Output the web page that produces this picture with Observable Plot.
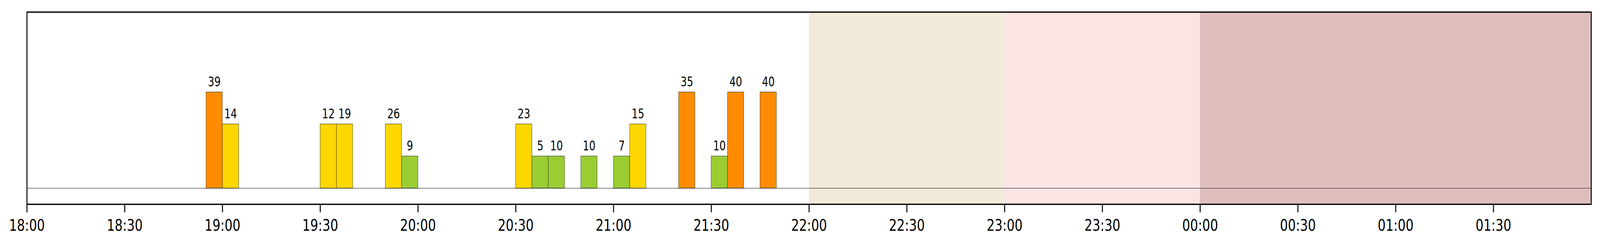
<!DOCTYPE html>
<html>
<head>
<meta charset="utf-8">
<script src="https://cdn.jsdelivr.net/npm/d3@7"></script>
<script src="https://cdn.jsdelivr.net/npm/@observablehq/plot@0.6"></script>
<style>
  html, body { margin: 0; padding: 0; background: white; overflow: hidden; }
  #chart { width: 5370px; height: 630px; transform-origin: 0 0; }
  #chart svg { display: block; max-width: none !important; width: 5370px; height: 630px; }
</style>
</head>
<body>
<div id="chart"></div>
<script>
// ---- data ----
const barStarts = ["18:55","19:00","19:30","19:35","19:50","19:55","20:30","20:35","20:40","20:50","21:00","21:05","21:20","21:30","21:35","21:45"];
const barValues = [39, 14, 12, 19, 26, 9, 23, 5, 10, 10, 7, 15, 35, 10, 40, 40];
const barLevels = [3, 2, 2, 2, 2, 1, 2, 1, 1, 1, 1, 2, 3, 1, 3, 3];
const levelColors = {1: "#9ACD32", 2: "#FFD700", 3: "#FF8C00"};
const barMinutes = 5;

const bandStarts = ["22:00", "23:00", "00:00"];
const bandEnds   = ["23:00", "00:00", "02:00"];
const bandColors = ["#F2EAD9", "#FAE5E4", "#E0BEBE"];

const tickLabels = ["18:00","18:30","19:00","19:30","20:00","20:30","21:00","21:30","22:00","22:30","23:00","23:30","00:00","00:30","01:00","01:30"];
const domainStart = "18:00", domainEnd = "02:00";

// ---- helpers ----
function toDate(hm) {
  const [h, m] = hm.split(":").map(Number);
  const day = h < 12 ? 2 : 1;
  return new Date(Date.UTC(2024, 0, day, h, m));
}
const bars = barStarts.map((s, i) => {
  const start = toDate(s);
  const end = new Date(+start + barMinutes * 60000);
  return {start, end, mid: new Date((+start + +end) / 2), value: barValues[i], level: barLevels[i], color: levelColors[barLevels[i]]};
});
const bands = bandStarts.map((s, i) => ({x1: toDate(s), x2: toDate(bandEnds[i]), color: bandColors[i]}));
const ticks = tickLabels.map(t => toDate(t));

const chart = Plot.plot({
  width: 5370,
  height: 630,
  marginLeft: 90,
  marginRight: 30,
  marginTop: 30.5,
  marginBottom: 107.3,
  style: {fontFamily: "DejaVu Sans", background: "white", color: "black", overflow: "visible"},
  x: {type: "utc", domain: [toDate(domainStart), toDate(domainEnd)], axis: null},
  y: {domain: [-0.5, 5.5], axis: null},
  marks: [
    Plot.rect(bands, {x1: "x1", x2: "x2", fill: "color"}),
    Plot.ruleY([0], {stroke: "#333", strokeWidth: 1.2}),
    Plot.rect(bars, {x1: "start", x2: "end", y1: 0, y2: "level", fill: "color", stroke: "#222", strokeWidth: 1}),
    Plot.text(bars, {x: "mid", y: "level", text: d => String(d.value), lineAnchor: "bottom", dy: -15, fontSize: 33.3, fill: "black"}),
    Plot.frame({stroke: "black", strokeWidth: 3.3}),
    Plot.axisX({ticks: ticks, tickFormat: d3.utcFormat("%H:%M"), tickSize: 21, tickPadding: 17.4, fontSize: 41.7, strokeWidth: 3.3, fill: "black", stroke: "black"})
  ]
});
const holder = document.getElementById("chart");
holder.appendChild(chart);
// The browser viewport may be narrower than the intended 5370px: squeeze horizontally to fit it.
const vw = window.innerWidth || 5370;
if (vw < 5370) holder.style.transform = `scaleX(${vw / 5370})`;
</script>
</body>
</html>
